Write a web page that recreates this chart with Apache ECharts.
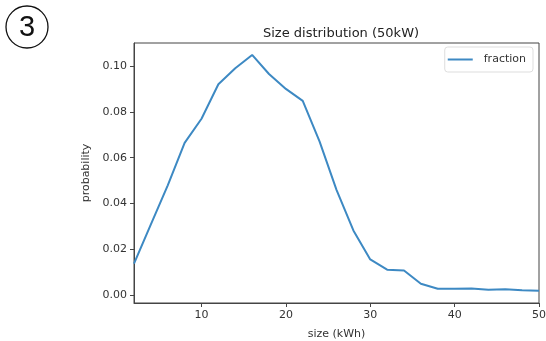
<!DOCTYPE html>
<html>
<head>
<meta charset="utf-8">
<script src="https://cdn.jsdelivr.net/npm/echarts@6/dist/echarts.min.js"></script>
<style>
  html, body { margin: 0; padding: 0; background: #fff; }
  #chart { width: 546px; height: 341px; }
</style>
</head>
<body>
<div id="chart"></div>
<script>
// size in kWh
const sizes = [2, 4, 6, 8, 10, 12, 14, 16, 18, 20, 22, 24, 26, 28, 30, 32, 34, 36, 38, 40, 42, 44, 46, 48, 50];
// probability per size bucket
const fraction = [0.0139, 0.031, 0.048, 0.0665, 0.077, 0.092, 0.099, 0.1048, 0.0965, 0.090, 0.0848, 0.067, 0.046, 0.0283,
  0.0157, 0.0112, 0.0109, 0.0051, 0.0029, 0.0029, 0.003, 0.0025, 0.0027, 0.0023, 0.002];
const xTicks = [10, 20, 30, 40, 50];
const yTicks = [0, 0.02, 0.04, 0.06, 0.08, 0.10];

const chart = echarts.init(document.getElementById('chart'));
const axisColor = '#444';
const textColor = '#333';
const font = 'DejaVu Sans';

chart.setOption({
  animation: false,
  textStyle: { fontFamily: font },
  title: {
    text: 'Size distribution (50kW)',
    left: 336,
    top: 22,
    textAlign: 'center',
    textStyle: { fontSize: 13, fontWeight: 'normal', color: '#222', fontFamily: font }
  },
  graphic: [
    {
      type: 'circle',
      shape: { cx: 27, cy: 27, r: 21 },
      style: { fill: 'none', stroke: '#111', lineWidth: 1.3 }
    },
    {
      type: 'text',
      x: 27,
      y: 28,
      style: {
        text: '3', fontSize: 29, fill: '#111', fontFamily: 'Liberation Sans',
        align: 'center', verticalAlign: 'middle'
      }
    }
  ],
  legend: {
    right: 13,
    top: 47,
    orient: 'vertical',
    itemWidth: 25,
    itemHeight: 2,
    padding: [7, 7, 7, 3],
    borderColor: '#ddd',
    borderWidth: 1,
    borderRadius: 3,
    textStyle: { fontSize: 11, color: textColor, fontFamily: font, padding: [0, 0, 0, 6] },
    data: [{ name: 'fraction', icon: 'rect' }]
  },
  grid: {
    left: 134,
    right: 7,
    top: 43,
    bottom: 38,
    outerBoundsMode: 'none',
    show: true,
    borderColor: axisColor,
    borderWidth: 1
  },
  xAxis: {
    type: 'value',
    min: 2,
    max: 50,
    name: 'size (kWh)',
    nameLocation: 'middle',
    nameGap: 26,
    nameTextStyle: { fontSize: 11, color: textColor },
    axisLine: { show: true, onZero: false, lineStyle: { color: axisColor } },
    axisTick: { show: true, length: 4, lineStyle: { color: axisColor }, customValues: xTicks },
    axisLabel: { fontSize: 11, color: textColor, margin: 7, customValues: xTicks },
    splitLine: { show: false }
  },
  yAxis: {
    type: 'value',
    min: -0.0033,
    max: 0.11,
    name: 'probability',
    nameLocation: 'middle',
    nameGap: 39,
    nameTextStyle: { fontSize: 11, color: textColor },
    axisLine: { show: true, onZero: false, lineStyle: { color: axisColor } },
    axisTick: { show: true, length: 4, lineStyle: { color: axisColor }, customValues: yTicks },
    axisLabel: {
      fontSize: 11, color: textColor, margin: 7, customValues: yTicks,
      formatter: v => v.toFixed(2)
    },
    splitLine: { show: false }
  },
  series: [
    {
      name: 'fraction',
      type: 'line',
      data: sizes.map((s, i) => [s, fraction[i]]),
      showSymbol: false,
      itemStyle: { color: '#3d89c3' },
      lineStyle: { color: '#3d89c3', width: 2 }
    }
  ]
});
</script>
</body>
</html>
